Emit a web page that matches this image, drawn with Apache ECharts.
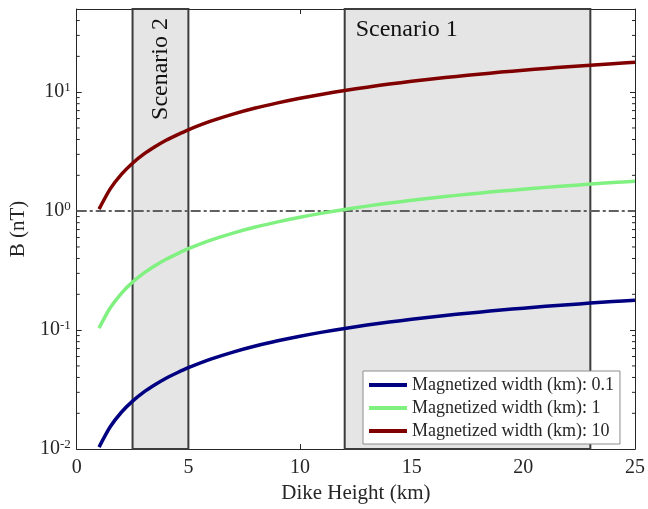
<!DOCTYPE html>
<html><head><meta charset="utf-8">
<script src="https://cdn.jsdelivr.net/npm/echarts@6/dist/echarts.min.js"></script>
<style>html,body{margin:0;padding:0;background:#fff}#c{width:648px;height:509px}</style>
</head><body><div id="c"></div>
<script>
const heights = [1,1.5,2,2.5,3,3.5,4,4.5,5,6,7,8,9,10,11,12,13,14,15,16,17,18,19,20,21,22,23,24,25];
const bWidth01 = [0.0104,0.0154,0.0204,0.0253,0.0301,0.0347,0.0394,0.0438,0.0483,0.0570,0.0654,0.0735,0.0813,0.0889,0.0962,0.1033,0.1102,0.1169,0.1233,0.1296,0.1357,0.1416,0.1474,0.1529,0.1584,0.1636,0.1687,0.1737,0.1786];
const bWidth1 = [0.104,0.154,0.204,0.253,0.301,0.347,0.394,0.438,0.483,0.570,0.654,0.735,0.813,0.889,0.962,1.033,1.102,1.169,1.233,1.296,1.357,1.416,1.474,1.529,1.584,1.636,1.687,1.737,1.786];
const bWidth10 = [1.04,1.54,2.04,2.53,3.01,3.47,3.94,4.38,4.83,5.70,6.54,7.35,8.13,8.89,9.62,10.33,11.02,11.69,12.33,12.96,13.57,14.16,14.74,15.29,15.84,16.36,16.87,17.37,17.86];
const seriesNames = ['Magnetized width (km): 0.1','Magnetized width (km): 1','Magnetized width (km): 10'];
const scenario2 = [2.5, 5];
const scenario1 = [12, 23];
const yMin = 0.01, yMax = 50;
const refLine = 1;

const FONT = 'Liberation Serif';
const TXT = '#262626';
const colors = ['#000080', '#80f080', '#800000'];

const minorVals = [];
for (let e = -2; e <= 1; e++) for (let m = 2; m <= 9; m++) { const v = m * Math.pow(10, e); if (v < yMax) minorVals.push(v); }

function mk(vals) { return heights.map((h, i) => [h, vals[i]]); }

const chart = echarts.init(document.getElementById('c'), null, {renderer: 'canvas'});
const logFmt = function (v) {
  const l = Math.log10(v); const e = Math.round(l);
  if (Math.abs(l - e) > 1e-6) return '';
  return '{b|10}{s|' + e + '}';
};
chart.setOption({
  animation: false,
  backgroundColor: '#fff',
  grid: {left: 76, right: 11, top: 9, bottom: 58},
  legend: {
    orient: 'vertical', left: 363, top: 371,
    data: seriesNames.map(n => ({name: n, icon: 'rect'})),
    backgroundColor: '#fff', borderColor: '#8c8c8c', borderWidth: 1,
    padding: [5, 6, 4, 6], itemGap: 5, itemWidth: 38, itemHeight: 4,
    textStyle: {fontFamily: FONT, fontSize: 18, color: TXT, padding: [0,0,0,0], lineHeight: 18}
  },
  xAxis: [{
    type: 'value', min: 0, max: 25, interval: 5,
    name: 'Dike Height (km)', nameLocation: 'middle', nameGap: 31,
    nameTextStyle: {fontFamily: FONT, fontSize: 21, color: TXT},
    axisLine: {show: true, onZero: false, lineStyle: {color: TXT, width: 1}},
    axisTick: {show: true, inside: true, length: 5, lineStyle: {color: TXT}},
    axisLabel: {fontFamily: FONT, fontSize: 20, color: TXT, margin: 9},
    splitLine: {show: false}
  }, {
    type: 'value', min: 0, max: 25, interval: 5, position: 'top',
    axisLine: {show: true, onZero: false, lineStyle: {color: TXT, width: 1}},
    axisTick: {show: true, inside: true, length: 5, lineStyle: {color: TXT}},
    axisLabel: {show: false}, splitLine: {show: false}
  }],
  yAxis: [{
    type: 'log', logBase: 10, min: yMin, max: yMax,
    name: 'B (nT)', nameLocation: 'middle', nameGap: 47,
    nameTextStyle: {fontFamily: FONT, fontSize: 21, color: TXT},
    axisLine: {show: true, onZero: false, lineStyle: {color: TXT, width: 1}},
    axisTick: {show: true, inside: true, length: 5, lineStyle: {color: TXT}},
    axisLabel: {formatter: logFmt, margin: 6, rich: {
      b: {fontFamily: FONT, fontSize: 20, color: TXT},
      s: {fontFamily: FONT, fontSize: 13, color: TXT, verticalAlign: 'top', padding: [0,0,10,0]}
    }},
    splitLine: {show: false}
  }, {
    type: 'log', logBase: 10, min: yMin, max: yMax, position: 'right',
    axisLine: {show: true, onZero: false, lineStyle: {color: TXT, width: 1}},
    axisTick: {show: true, inside: true, length: 5, lineStyle: {color: TXT}},
    axisLabel: {show: false}, splitLine: {show: false}
  }],
  series: [
    {
      type: 'line', name: 'bands', data: [], z: 1, silent: true,
      markArea: {
        silent: true,
        itemStyle: {color: '#e5e5e5', borderColor: '#3c3c3c', borderWidth: 2},
        label: {fontFamily: FONT, fontSize: 24, color: '#111'},
        data: [
          [{xAxis: scenario2[0], yAxis: yMin, name: 'Scenario 2',
            label: {position: 'insideTop', rotate: 90, align: 'right', verticalAlign: 'middle', distance: 10}},
           {xAxis: scenario2[1], yAxis: yMax}],
          [{xAxis: scenario1[0], yAxis: yMin, name: 'Scenario 1',
            label: {position: 'insideTopLeft', distance: 10, offset: [2, 0]}},
           {xAxis: scenario1[1], yAxis: yMax}]
        ]
      },
      markLine: {
        silent: true, symbol: 'none', label: {show: false},
        lineStyle: {color: '#606060', width: 2, type: [10, 3, 3, 3]},
        data: [{yAxis: refLine}]
      }
    },
    {
      type: 'custom', name: 'minorTicks', silent: true, z: 5,
      data: minorVals.map(v => [0, v]),
      renderItem: function (params, api) {
        const cs = params.coordSys;
        const p = api.coord([0, api.value(1)]);
        return {type: 'group', children: [
          {type: 'line', shape: {x1: cs.x, y1: p[1], x2: cs.x + 3, y2: p[1]}, style: {stroke: TXT, lineWidth: 1}},
          {type: 'line', shape: {x1: cs.x + cs.width, y1: p[1], x2: cs.x + cs.width - 3, y2: p[1]}, style: {stroke: TXT, lineWidth: 1}}
        ]};
      }
    },
    {type: 'line', name: seriesNames[0], data: mk(bWidth01), smooth: 0.25, symbol: 'none', z: 10,
     lineStyle: {color: colors[0], width: 3.5}, itemStyle: {color: colors[0]}},
    {type: 'line', name: seriesNames[1], data: mk(bWidth1), smooth: 0.25, symbol: 'none', z: 10,
     lineStyle: {color: colors[1], width: 3.5}, itemStyle: {color: colors[1]}},
    {type: 'line', name: seriesNames[2], data: mk(bWidth10), smooth: 0.25, symbol: 'none', z: 10,
     lineStyle: {color: colors[2], width: 3.5}, itemStyle: {color: colors[2]}}
  ]
});
</script></body></html>
